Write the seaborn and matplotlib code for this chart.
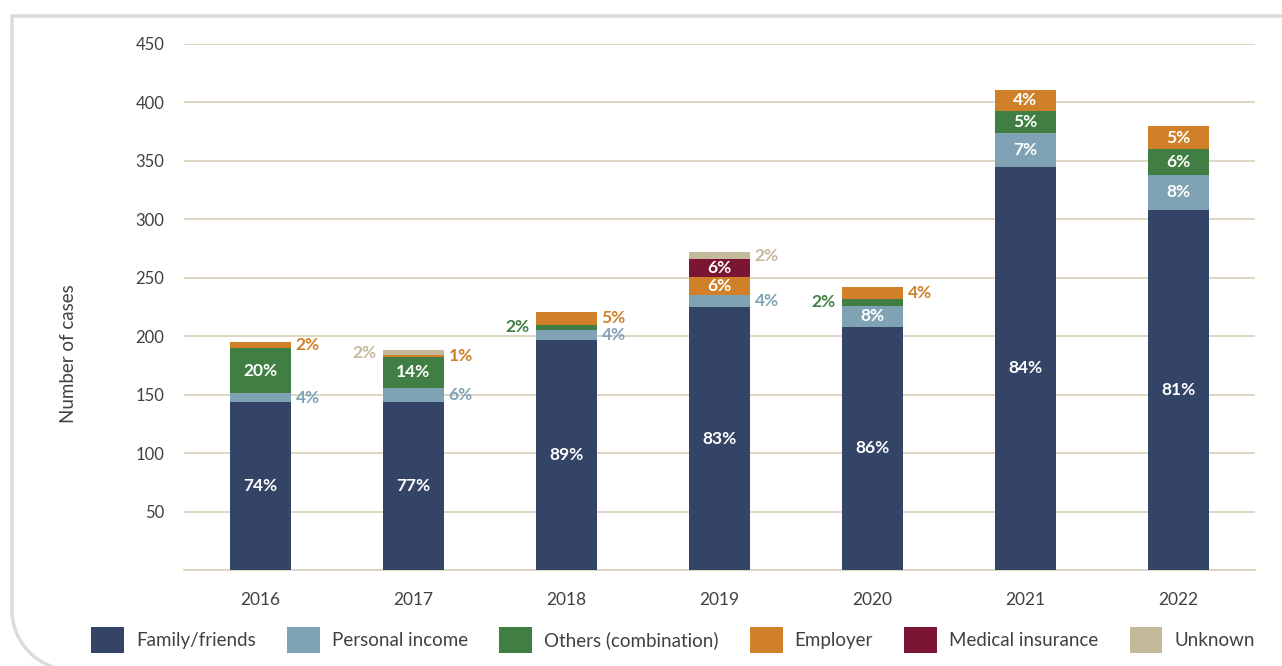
import numpy as np
import pandas as pd
import matplotlib
matplotlib.use('Agg')
import matplotlib.pyplot as plt
import seaborn as sns
from matplotlib.patches import Patch
from matplotlib.lines import Line2D

# data
years = ['2016', '2017', '2018', '2019', '2020', '2021', '2022']
family = [144, 144, 197, 225, 208, 345, 308]
personal = [7, 12, 8, 10, 18, 29, 30]
others = [39, 26, 5, 0, 6, 19, 22]
employer = [5, 2, 11, 16, 10, 18, 20]
medical = [0, 0, 0, 15, 0, 0, 0]
unknown = [0, 4, 0, 6, 0, 0, 0]

fam_pct = [74, 77, 89, 83, 86, 84, 81]
pers_pct = [4, 6, 4, 4, 8, 7, 8]
oth_pct = [20, 14, 2, None, 2, 5, 6]
emp_pct = [2, 1, 5, 6, 4, 4, 5]
med_pct = [None, None, None, 6, None, None, None]
unk_pct = [None, 2, None, 2, None, None, None]

names = ['Family/friends', 'Personal income', 'Others (combination)', 'Employer', 'Medical insurance', 'Unknown']
colors = ['#344466', '#80a2b5', '#407e44', '#d08029', '#7a1533', '#c5b99b']
layers = [family, personal, others, employer, medical, unknown]
pcts = [fam_pct, pers_pct, oth_pct, emp_pct, med_pct, unk_pct]
left_side = {(1, 5), (2, 2), (4, 2)}

sns.set_style('white')
plt.rcParams['font.family'] = ['Lato', 'DejaVu Sans']

df = pd.DataFrame(np.array(layers).T, columns=names)
df['year'] = years
cum = df[names].cumsum(axis=1)

fig = plt.figure(figsize=(12.82, 6.66), dpi=100)
ax = fig.add_axes([184/1282, 1-570/666, (1255-184)/1282, (570-44)/666])

# draw from the tallest cumulative down so each layer covers the one above
for i in range(len(names)-1, -1, -1):
    sns.barplot(x=df['year'], y=cum[names[i]], color=colors[i], width=0.405,
                linewidth=0, saturation=1, ax=ax, zorder=3)

ax.set_ylim(0, 450)
ax.set_xlim(-0.5, 6.5)
ax.set_yticks(range(50, 451, 50))
ax.yaxis.grid(True, color='#d8cfb8', linewidth=1.2, zorder=0)
ax.set_axisbelow(True)
for s in ['top', 'right', 'left']:
    ax.spines[s].set_visible(False)
ax.spines['bottom'].set_color('#d8cfb8')
ax.spines['bottom'].set_linewidth(1.2)
ax.tick_params(axis='y', length=0, pad=14, labelsize=12, labelcolor='#404040')
ax.tick_params(axis='x', length=0, pad=16, labelsize=12.5, labelcolor='#404040')
ax.set_xlabel('')
ax.set_ylabel('')
fig.text(68/1282, 1-354/666, 'Number of cases', rotation=90, ha='center', va='center',
         fontsize=13.5, color='#404040')

# percentage labels
for j in range(len(years)):
    base = 0
    for i in range(len(names)):
        h = layers[i][j]
        p = pcts[i][j]
        if p is not None and h > 0:
            yc = base + h / 2
            txt = f'{p}%'
            if h >= 14:
                ax.text(j, yc, txt, ha='center', va='center', color='white',
                        fontsize=12.5, fontweight='bold', zorder=5)
            elif (j, i) in left_side:
                ax.annotate(txt, (j - 0.2025, yc), xytext=(-4, 0), textcoords='offset points',
                            ha='right', va='center', color=colors[i], fontsize=12.5,
                            fontweight='bold', zorder=5)
            else:
                ax.annotate(txt, (j + 0.2025, yc), xytext=(3, 0), textcoords='offset points',
                            ha='left', va='center', color=colors[i], fontsize=12.5,
                            fontweight='bold', zorder=5)
        base += h

handles = [Patch(facecolor=c, edgecolor='none') for c in colors]
fig.legend(handles, names, loc='center', bbox_to_anchor=(673/1282, 1-640/666), ncol=6,
           frameon=False, fontsize=13.5, handlelength=1.75, handleheight=1.75,
           handletextpad=0.65, columnspacing=1.66, labelcolor='#404040')

# frame with rounded bottom-left corner
r = 60
t = np.linspace(0, np.pi / 2, 30)
px = np.concatenate([[1290, 12, 12], 72 - r * np.cos(t)])
py = np.concatenate([[16, 16, 610], 610 + r * np.sin(t)])
fig.add_artist(Line2D(px / 1282, 1 - py / 666, transform=fig.transFigure,
                      color='#dcdcdc', linewidth=2.5, solid_capstyle='butt'))

fig.savefig('out.png', dpi=100)
